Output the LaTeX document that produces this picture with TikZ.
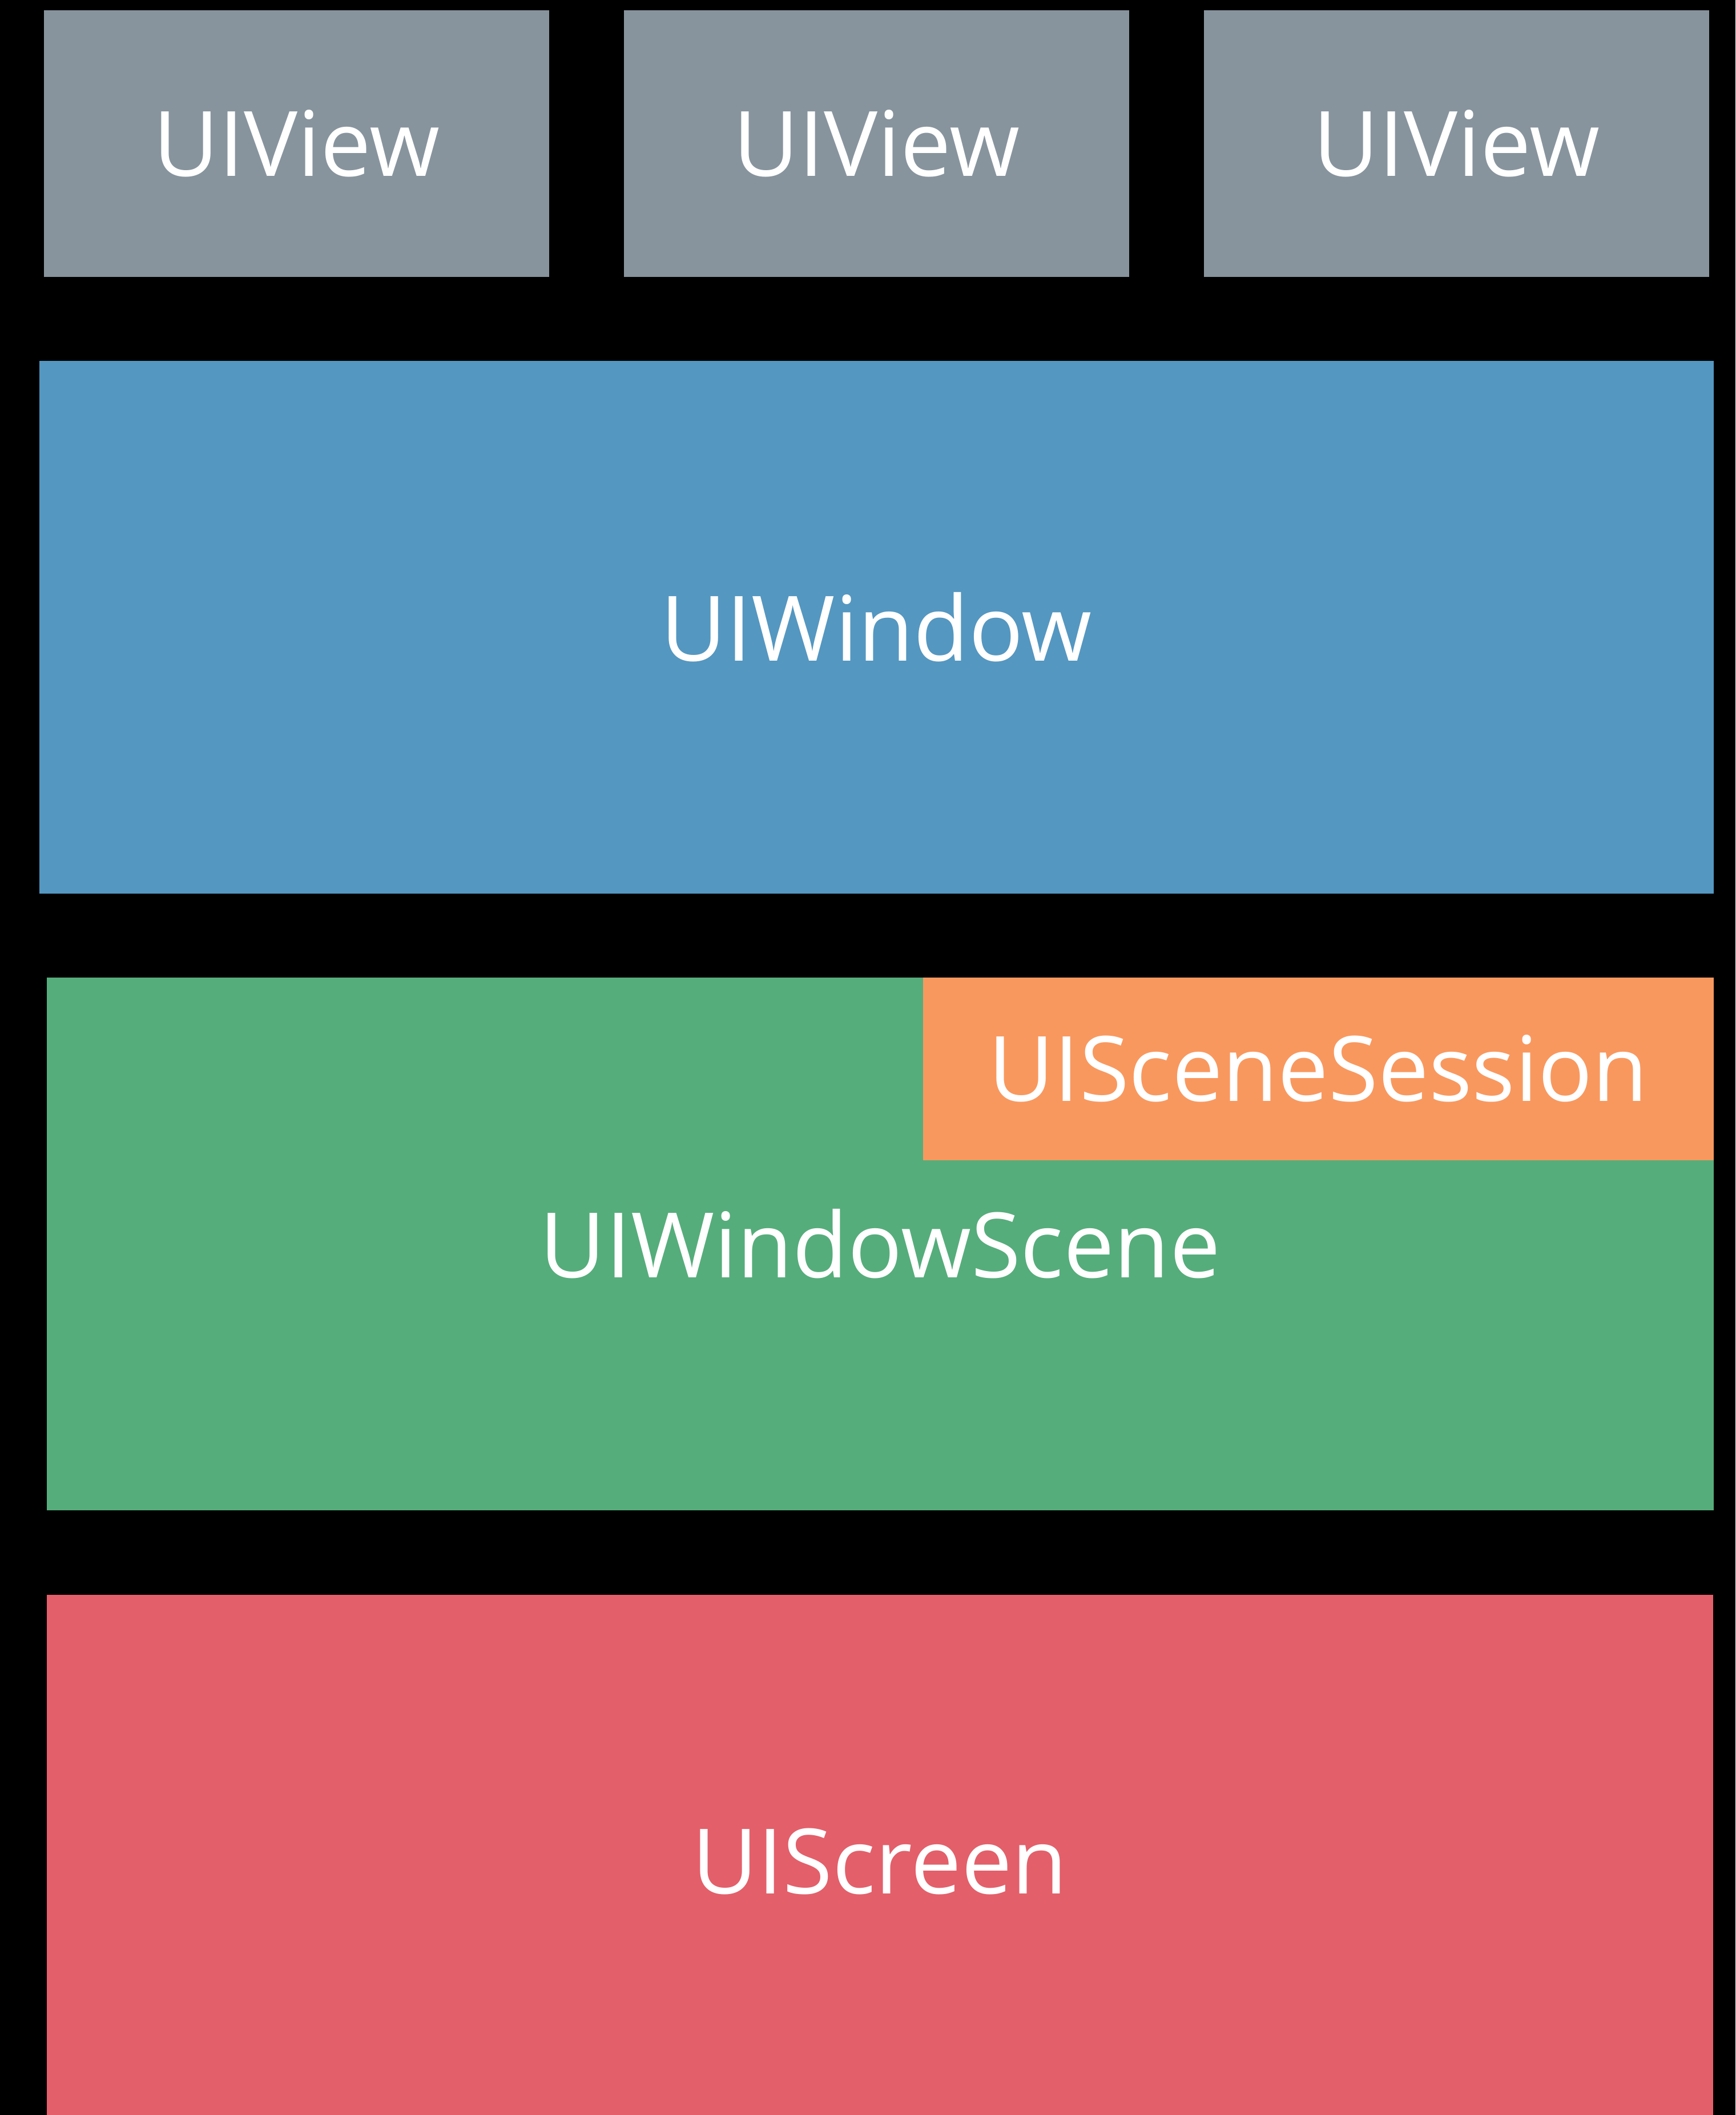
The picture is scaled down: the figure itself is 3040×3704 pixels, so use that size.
\documentclass[tikz,border=0pt]{standalone}
\usepackage{fontspec}
\setmainfont{Open Sans}
\usepackage{xcolor}
\usetikzlibrary{positioning}

\definecolor{viewgray}{HTML}{87949D}
\definecolor{windowblue}{HTML}{5497C1}
\definecolor{scenegreen}{HTML}{55AD7B}
\definecolor{sessionorange}{HTML}{F9985E}
\definecolor{screenred}{HTML}{E35F6A}

\begin{document}
\begin{tikzpicture}[
    x=0.1mm, y=-0.1mm,
    layer/.style={fill=#1, text=white, inner sep=0pt, anchor=north west,
      font=\fontsize{45}{54}\selectfont},
    view/.style={layer=viewgray, minimum width=88.5mm, minimum height=46.7mm}
  ]
    %% ---- canvas ----
    \fill[black] (0,0) rectangle (3040,3704);
    \useasboundingbox (0,0) rectangle (3040,3704);

    %% ---- Top row: views ----
    \node[view] (v1) at (76,17)   {UIView};
    \node[view] (v2) at (1092,17) {UIView};
    \node[view] (v3) at (2108,17) {UIView};

    %% ---- Window ----
    \node[layer=windowblue, minimum width=293.3mm, minimum height=93.3mm] (win) at (68,631) {UIWindow};

    %% ---- Window scene, session sits in its top right corner ----
    \node[layer=scenegreen, minimum width=292mm, minimum height=93.3mm] (scene) at (81,1711) {UIWindowScene};
    \node[layer=sessionorange, minimum width=138.5mm, minimum height=32mm] (sess) at (1616,1711) {UISceneSession};

    %% ---- Screen (runs past the lower edge) ----
    \node[layer=screenred, minimum width=291.9mm, minimum height=93.4mm] (scr) at (81,2792) {UIScreen};
  \end{tikzpicture}
\end{document}
